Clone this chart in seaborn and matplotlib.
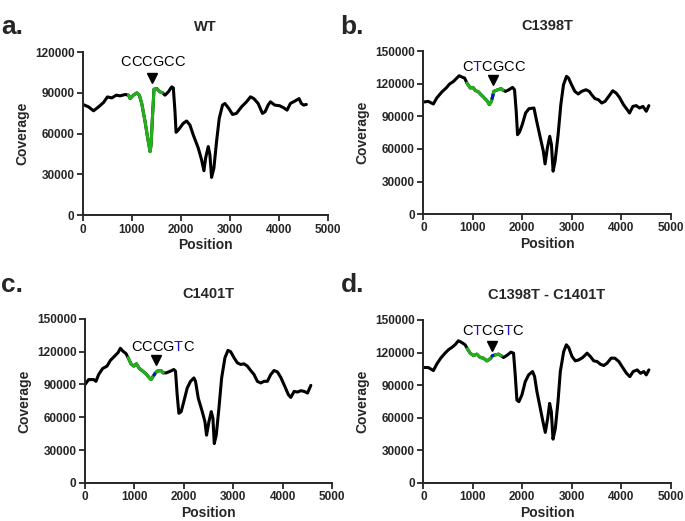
import matplotlib
matplotlib.use('Agg')
import matplotlib.pyplot as plt
import matplotlib.transforms as mtransforms
import numpy as np
import pandas as pd
import seaborn as sns

# coverage traces
pos_wt = [0, 115, 217, 320, 420, 500, 590, 680, 760, 860, 930, 963, 1030, 1100, 1150, 1200, 1268, 1322,
          1370, 1390, 1417, 1450, 1505, 1573, 1620, 1675, 1742, 1810, 1844, 1878, 1900, 1946, 2047, 2115,
          2183, 2251, 2353, 2420, 2468, 2502, 2556, 2590, 2624, 2671, 2725, 2780, 2847, 2895, 2976, 3051,
          3132, 3234, 3336, 3417, 3485, 3573, 3661, 3715, 3776, 3824, 3912, 4014, 4095, 4163, 4231, 4319,
          4407, 4454, 4502, 4556]
cov_wt = [81500, 79700, 76800, 79700, 82900, 87000, 86300, 88300, 87800, 88800, 88300, 85800, 88300, 90000,
          88300, 82200, 68800, 56600, 46800, 51700, 71200, 92700, 93200, 90700, 90200, 88300, 90700, 94400,
          93700, 76100, 61000, 62700, 67600, 69300, 66300, 59000, 49300, 40700, 32700, 42000, 50500, 44400,
          27800, 34600, 54100, 71200, 81000, 82200, 78500, 74100, 74900, 79700, 83400, 87100, 85800, 82200,
          74900, 76100, 81000, 83400, 81000, 80500, 79000, 77300, 82200, 83900, 85800, 82200, 81000, 81500]

pos_1398 = [0, 100, 203, 271, 373, 461, 529, 610, 678, 725, 780, 834, 881, 949, 1003, 1050, 1119, 1166, 1234,
            1288, 1336, 1376, 1392, 1408, 1424, 1505, 1573, 1610, 1661, 1729, 1803, 1844, 1878, 1905, 1946,
            2000, 2068, 2136, 2237, 2292, 2359, 2427, 2461, 2508, 2556, 2590, 2624, 2664, 2725, 2780, 2834,
            2895, 2936, 2997, 3064, 3132, 3200, 3288, 3356, 3403, 3471, 3539, 3607, 3674, 3763, 3830, 3898,
            3966, 4047, 4122, 4169, 4237, 4305, 4373, 4441, 4508, 4560]
cov_1398 = [103100, 103700, 101300, 106800, 112300, 116000, 119600, 122100, 125200, 127300, 126100, 125200,
            120600, 116000, 116600, 113800, 112300, 109900, 106800, 104300, 100700, 103700, 106500, 109500,
            112900, 114400, 115400, 114000, 112900, 114400, 116600, 114400, 94600, 73100, 75600, 82300, 93000,
            97000, 97600, 85400, 71600, 57800, 46200, 60900, 71600, 64000, 39500, 48700, 73100, 100700, 119000,
            126700, 125200, 119000, 112900, 110500, 112900, 114400, 112900, 109900, 106200, 105300, 102200,
            103700, 109200, 113500, 111400, 107400, 100700, 96100, 93000, 99100, 99800, 97600, 99100, 94600,
            99800]

pos_1401 = [0, 74, 176, 223, 277, 358, 446, 514, 601, 669, 716, 764, 831, 872, 932, 986, 1041, 1101, 1169,
            1236, 1304, 1338, 1378, 1397, 1412, 1459, 1540, 1580, 1642, 1730, 1797, 1831, 1865, 1899, 1946,
            2000, 2068, 2135, 2203, 2236, 2291, 2372, 2426, 2459, 2507, 2554, 2588, 2615, 2655, 2709, 2764,
            2831, 2892, 2946, 3014, 3081, 3149, 3216, 3284, 3351, 3419, 3486, 3554, 3622, 3689, 3757, 3824,
            3892, 3959, 4041, 4115, 4162, 4230, 4297, 4365, 4432, 4500, 4568]
cov_1401 = [89800, 94500, 94500, 92900, 99100, 104600, 106800, 112000, 116000, 119100, 123100, 120600, 118200,
            114500, 108900, 106800, 108900, 104600, 102200, 99700, 96000, 94500, 97500, 98600, 99800, 102200,
            102800, 100600, 100600, 102200, 103700, 102200, 80600, 63700, 65200, 74500, 86800, 92900, 96000,
            92900, 77500, 65200, 56000, 43700, 56000, 65200, 59100, 36000, 43700, 68300, 96000, 114500, 121200,
            120000, 114500, 109800, 108300, 108900, 106800, 102800, 99100, 92900, 91400, 92900, 92900, 99100,
            102800, 101500, 96600, 88300, 80600, 78200, 83700, 83100, 84300, 83700, 82200, 89200]

pos_double = [0, 101, 203, 270, 351, 439, 507, 574, 642, 709, 777, 845, 892, 946, 1014, 1081, 1149, 1216,
              1284, 1318, 1365, 1392, 1408, 1453, 1520, 1574, 1622, 1703, 1770, 1824, 1858, 1892, 1932, 1993,
              2061, 2128, 2209, 2250, 2297, 2365, 2419, 2466, 2514, 2554, 2588, 2622, 2669, 2723, 2770, 2838,
              2892, 2939, 3007, 3074, 3142, 3223, 3311, 3378, 3446, 3514, 3581, 3649, 3716, 3797, 3872, 3953,
              4041, 4108, 4176, 4243, 4324, 4392, 4459, 4507, 4561]
cov_double = [106200, 106200, 103400, 109200, 114800, 119400, 122500, 124600, 127100, 130800, 129200, 127100,
              123400, 119400, 117200, 118500, 115400, 114800, 112300, 113200, 114800, 116700, 117300, 117800,
              118500, 116900, 115400, 117800, 120300, 119400, 99400, 76300, 74800, 80900, 93200, 99400, 102500,
              97800, 84000, 68600, 56300, 46500, 59400, 73200, 65500, 40300, 50200, 74800, 102500, 120900,
              127100, 124600, 116300, 112300, 113200, 115400, 119400, 116300, 112300, 111700, 109200, 108000,
              110200, 114800, 114800, 111700, 105500, 100900, 97800, 102500, 104000, 100900, 102500, 99400,
              104000]

titles = ['WT', 'C1398T', 'C1401T', 'C1398T - C1401T']
letters = ['a.', 'b.', 'c.', 'd.']
sequences = ['CCCGCC', 'CTCGCC', 'CCCGTC', 'CTCGTC']
mutated = [[], [1], [4], [1, 4]]
ymax = [120000, 150000, 150000, 150000]
green_range = [(900, 1620), (860, 1610), (850, 1580), (870, 1580)]
blue_range = [None, (1390, 1410), (1395, 1415), (1390, 1410)]
arrow_xy = [(1410, 100800), (1400, 123300), (1437, 112500), (1397, 126100)]
label_xy = [(1420, 112600), (1417, 135300), (1560, 124400), (1397, 139900)]

traces = [(pos_wt, cov_wt), (pos_1398, cov_1398), (pos_1401, cov_1401), (pos_double, cov_double)]

sns.set_style('ticks')
plt.rcParams['font.family'] = ['Liberation Sans', 'DejaVu Sans']

fig = plt.figure(figsize=(6.85, 5.21), dpi=100)
boxes = [[0.121, 0.587, 0.358, 0.313], [0.618, 0.589, 0.361, 0.313],
         [0.124, 0.073, 0.361, 0.315], [0.618, 0.073, 0.361, 0.313]]
letter_xy = [(0.002, 0.935), (0.497, 0.935), (0.002, 0.44), (0.497, 0.44)]

GREEN = '#22b11a'
BLUE = '#1010d0'


def colored_text(ax, x, y, text, blue_idx, size):
    # draw a sequence letter by letter so mutated bases can be blue
    renderer = fig.canvas.get_renderer()
    pieces = []
    widths = []
    for i, ch in enumerate(text):
        t = ax.text(x, y, ch, fontsize=size, color=BLUE if i in blue_idx else 'black',
                    ha='left', va='center')
        pieces.append(t)
        widths.append(t.get_window_extent(renderer).width)
    total = sum(widths)
    offset = -total / 2
    for t, w in zip(pieces, widths):
        t.set_transform(mtransforms.offset_copy(ax.transData, fig=fig, x=offset * 72 / fig.dpi, y=0,
                                                units='points'))
        offset += w


for i in range(4):
    ax = fig.add_axes(boxes[i])
    pos, cov = traces[i]
    df = pd.DataFrame({'Position': pos, 'Coverage': cov})
    sns.lineplot(data=df, x='Position', y='Coverage', ax=ax, color='black', lw=2.2, sort=False, estimator=None)
    g0, g1 = green_range[i]
    sub = df[(df.Position >= g0) & (df.Position <= g1)]
    sns.lineplot(data=sub, x='Position', y='Coverage', ax=ax, color=GREEN, lw=2.2, sort=False, estimator=None)
    if blue_range[i] is not None:
        b0, b1 = blue_range[i]
        sub = df[(df.Position >= b0) & (df.Position <= b1)]
        sns.lineplot(data=sub, x='Position', y='Coverage', ax=ax, color=BLUE, lw=2.2, sort=False, estimator=None)

    ax.plot(*arrow_xy[i], marker='v', color='black', ms=7, ls='none')
    colored_text(ax, label_xy[i][0], label_xy[i][1], sequences[i], mutated[i], 10.5)

    ax.set_xlim(0, 5000)
    ax.set_ylim(0, ymax[i])
    ax.set_xticks(np.arange(0, 5001, 1000))
    ax.set_yticks(np.arange(0, ymax[i] + 1, 30000))
    ax.set_xlabel('Position', fontsize=10, fontweight='bold', labelpad=2)
    ax.set_ylabel('Coverage', fontsize=10, fontweight='bold', labelpad=4)
    ax.set_title(titles[i], fontsize=10.5, fontweight='bold', pad=15)
    for lab in ax.get_xticklabels() + ax.get_yticklabels():
        lab.set_fontweight('bold')
        lab.set_fontsize(8.5)
    ax.tick_params(width=1.3, length=4, pad=2)
    for s in ['left', 'bottom']:
        ax.spines[s].set_linewidth(1.4)
    sns.despine(ax=ax)
    fig.text(letter_xy[i][0], letter_xy[i][1], letters[i], fontsize=19, fontweight='bold')

fig.savefig('out.png', dpi=100)
